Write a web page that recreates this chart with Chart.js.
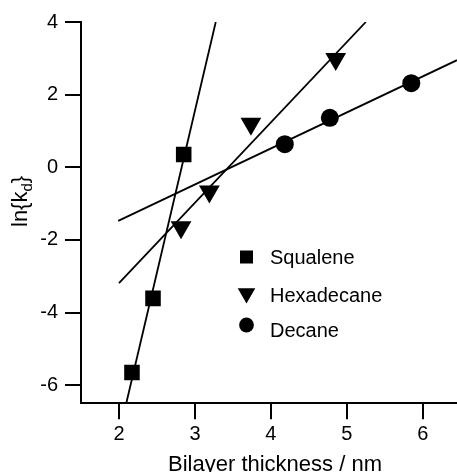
<!DOCTYPE html>
<html>
<head>
<meta charset="utf-8">
<script src="https://cdn.jsdelivr.net/npm/chart.js@4"></script>
<style>
html,body{margin:0;padding:0;background:#fff;}
#c{display:block;}
</style>
</head>
<body>
<canvas id="c" width="457" height="472"></canvas>
<script>
// Data
const squaleneX = [2.171, 2.448, 2.852];
const squaleneY = [-5.65, -3.61, 0.35];
const hexadecaneX = [2.817, 3.19, 3.737, 4.853];
const hexadecaneY = [-1.65, -0.665, 1.195, 2.98];
const decaneX = [4.183, 4.776, 5.848];
const decaneY = [0.635, 1.36, 2.316];
// fitted lines (endpoints as read)
const squaleneFitX = [2.096, 3.274];
const squaleneFitY = [-6.5, 4];
const hexadecaneFitX = [2.0, 5.25];
const hexadecaneFitY = [-3.19, 4];
const decaneFitX = [1.99, 6.45];
const decaneFitY = [-1.475, 2.95];
const xTicks = [2, 3, 4, 5, 6];
const yTicks = [-6, -4, -2, 0, 2, 4];
const seriesNames = ['Squalene', 'Hexadecane', 'Decane'];
const xTitle = 'Bilayer thickness / nm';

const FONT = '"Liberation Sans", Arial, Helvetica, sans-serif';
const pts = (xs, ys) => xs.map((x, i) => ({x: x, y: ys[i]}));

const titlesPlugin = {
  id: 'titles',
  afterDraw(chart) {
    const ctx = chart.ctx;
    ctx.save();
    ctx.fillStyle = '#000';
    // x title
    ctx.font = '22px ' + FONT;
    ctx.textAlign = 'center';
    ctx.textBaseline = 'alphabetic';
    ctx.fillText(xTitle, 275, 470.5);
    // y title with subscript
    ctx.translate(27.3, 227);
    ctx.rotate(-Math.PI / 2);
    ctx.textAlign = 'left';
    ctx.font = '22px ' + FONT;
    let t1 = 'ln{k';
    ctx.fillText(t1, 0, 0);
    let w = ctx.measureText(t1).width;
    ctx.font = '15px ' + FONT;
    ctx.fillText('d', w, 5);
    w += ctx.measureText('d').width;
    ctx.font = '22px ' + FONT;
    ctx.fillText('}', w, 0);
    ctx.restore();

    // legend
    ctx.save();
    ctx.fillStyle = '#000';
    const mx = 246.5;
    ctx.fillRect(mx - 6.5, 250.5, 13, 13);
    ctx.beginPath();
    ctx.moveTo(mx - 8.8, 288.3);
    ctx.lineTo(mx + 8.8, 288.3);
    ctx.lineTo(mx, 303.5);
    ctx.closePath();
    ctx.fill();
    ctx.beginPath();
    ctx.arc(mx, 325, 7.4, 0, Math.PI * 2);
    ctx.fill();
    ctx.font = '20px ' + FONT;
    ctx.textAlign = 'left';
    ctx.textBaseline = 'alphabetic';
    ctx.fillText(seriesNames[0], 270, 264);
    ctx.fillText(seriesNames[1], 270, 301.5);
    ctx.fillText(seriesNames[2], 270, 336.5);
    ctx.restore();
  }
};

const lineDs = (xs, ys) => ({
  data: pts(xs, ys), showLine: true, borderColor: '#000', borderWidth: 1.8,
  pointRadius: 0, pointHoverRadius: 0, fill: false, order: 2
});

new Chart(document.getElementById('c'), {
  type: 'scatter',
  data: {
    datasets: [
      lineDs(squaleneFitX, squaleneFitY),
      lineDs(hexadecaneFitX, hexadecaneFitY),
      lineDs(decaneFitX, decaneFitY),
      {label: seriesNames[0], data: pts(squaleneX, squaleneY), pointStyle: 'rect', pointRadius: 11,
       backgroundColor: '#000', borderColor: '#000', borderWidth: 0, order: 1},
      {label: seriesNames[1], data: pts(hexadecaneX, hexadecaneY), pointStyle: 'triangle', rotation: 180, pointRadius: 12,
       backgroundColor: '#000', borderColor: '#000', borderWidth: 0, order: 1},
      {label: seriesNames[2], data: pts(decaneX, decaneY), pointStyle: 'circle', pointRadius: 9,
       backgroundColor: '#000', borderColor: '#000', borderWidth: 0, order: 1}
    ]
  },
  options: {
    responsive: false,
    animation: false,
    devicePixelRatio: 1,
    layout: {autoPadding: false, padding: {top: 22, right: 0, left: 0, bottom: 0}},
    plugins: {legend: {display: false}, tooltip: {enabled: false}},
    scales: {
      x: {
        type: 'linear', min: 1.5, max: 6.45,
        afterBuildTicks: s => { s.ticks = xTicks.map(v => ({value: v})); },
        afterFit: s => { s.height = 472 - 22 - 381.3; },
        grid: {drawOnChartArea: false, drawTicks: true, tickLength: 16, color: '#000', lineWidth: 2},
        border: {display: true, color: '#000', width: 2},
        ticks: {color: '#000', font: {size: 20, family: FONT}, padding: 3, maxRotation: 0, autoSkip: false,
                callback: v => String(v)}
      },
      y: {
        type: 'linear', min: -6.5, max: 4,
        afterBuildTicks: s => { s.ticks = yTicks.map(v => ({value: v})); },
        afterFit: s => { s.width = 81; },
        grid: {drawOnChartArea: false, drawTicks: true, tickLength: 16, color: '#000', lineWidth: 2},
        border: {display: true, color: '#000', width: 2},
        ticks: {color: '#000', font: {size: 20, family: FONT}, padding: 7, autoSkip: false,
                callback: v => String(v)}
      }
    }
  },
  plugins: [titlesPlugin]
});
</script>
</body>
</html>
